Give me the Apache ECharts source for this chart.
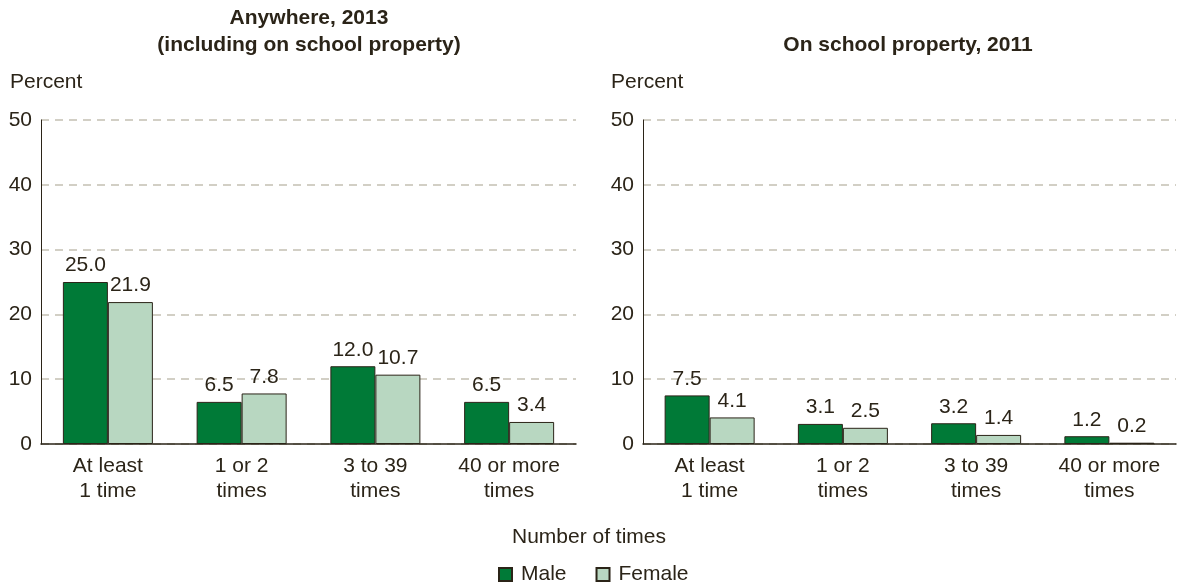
<!DOCTYPE html>
<html>
<head>
<meta charset="utf-8">
<script src="https://cdn.jsdelivr.net/npm/echarts@6/dist/echarts.min.js"></script>
<style>
  html, body { margin: 0; padding: 0; background: #fff; }
  #chart { width: 1177px; height: 583px; }
</style>
</head>
<body>
<div id="chart"></div>
<script>
// 数据
const categories = ['At least\n1 time', '1 or 2\ntimes', '3 to 39\ntimes', '40 or more\ntimes'];
const anywhereMale = [25.0, 6.5, 12.0, 6.5];
const anywhereFemale = [21.9, 7.8, 10.7, 3.4];
const schoolMale = [7.5, 3.1, 3.2, 1.2];
const schoolFemale = [4.1, 2.5, 1.4, 0.2];
const yTicks = [0, 10, 20, 30, 40, 50];

const font = 'Liberation Sans, Arial, sans-serif';
const dark = '#2b2418';
const maleColor = '#007a37';
const femaleColor = '#b8d7c1';
const fs = 21;

const chart = echarts.init(document.getElementById('chart'));

function yAxisFor(idx) {
  return {
    gridIndex: idx,
    type: 'value',
    min: yTicks[0],
    max: yTicks[yTicks.length - 1],
    interval: 10,
    axisLine: { show: true, lineStyle: { color: dark, width: 1 } },
    axisTick: { show: false },
    axisLabel: { color: dark, fontSize: fs, fontFamily: font, margin: 9 },
    splitLine: { show: true, lineStyle: { color: '#c4c0b2', type: [8, 6], width: 1.5 } }
  };
}

function xAxisFor(idx) {
  return {
    gridIndex: idx,
    type: 'category',
    data: categories,
    axisLine: { show: true, lineStyle: { color: dark, width: 1.5 } },
    axisTick: { show: false },
    axisLabel: { color: dark, fontSize: fs, fontFamily: font, lineHeight: 25, margin: 10 }
  };
}

function barSeries(name, data, color, idx) {
  return {
    name: name,
    type: 'bar',
    xAxisIndex: idx,
    yAxisIndex: idx,
    data: data,
    barWidth: 45,
    barGap: '0%',
    itemStyle: { color: color, borderColor: dark, borderWidth: 1 },
    label: {
      show: true,
      position: 'top',
      distance: 6,
      color: dark,
      fontSize: fs,
      fontFamily: font,
      formatter: p => p.value.toFixed(1)
    }
  };
}

const plainText = { color: dark, fontSize: fs, fontWeight: 'normal', fontFamily: font, lineHeight: 22 };
const boldText = { color: dark, fontSize: fs, fontWeight: 'bold', lineHeight: 27, fontFamily: font };

const option = {
  animation: false,
  textStyle: { fontFamily: font },
  title: [
    { text: 'Anywhere, 2013\n(including on school property)', left: 309, top: 5, padding: 0, textAlign: 'center', textStyle: boldText },
    { text: 'On school property, 2011', left: 908, top: 32, padding: 0, textAlign: 'center', textStyle: boldText },
    { text: 'Percent', left: 10, top: 71, padding: 0, textStyle: plainText },
    { text: 'Percent', left: 611, top: 71, padding: 0, textStyle: plainText },
    { text: 'Number of times', left: 589, top: 526, padding: 0, textAlign: 'center', textStyle: plainText }
  ],
  legend: {
    data: ['Male', 'Female'],
    left: 498,
    top: 564,
    padding: 0,
    itemWidth: 13,
    itemHeight: 13,
    itemGap: 29,
    icon: 'rect',
    textStyle: { color: dark, fontSize: fs, fontFamily: font, padding: [0, 0, 0, 4] }
  },
  grid: [
    { left: 41, right: 601, top: 120, bottom: 139 },
    { left: 643, right: 1, top: 120, bottom: 139 }
  ],
  xAxis: [xAxisFor(0), xAxisFor(1)],
  yAxis: [yAxisFor(0), yAxisFor(1)],
  series: [
    barSeries('Male', anywhereMale, maleColor, 0),
    barSeries('Female', anywhereFemale, femaleColor, 0),
    barSeries('Male', schoolMale, maleColor, 1),
    barSeries('Female', schoolFemale, femaleColor, 1)
  ]
};

chart.setOption(option);
</script>
</body>
</html>
